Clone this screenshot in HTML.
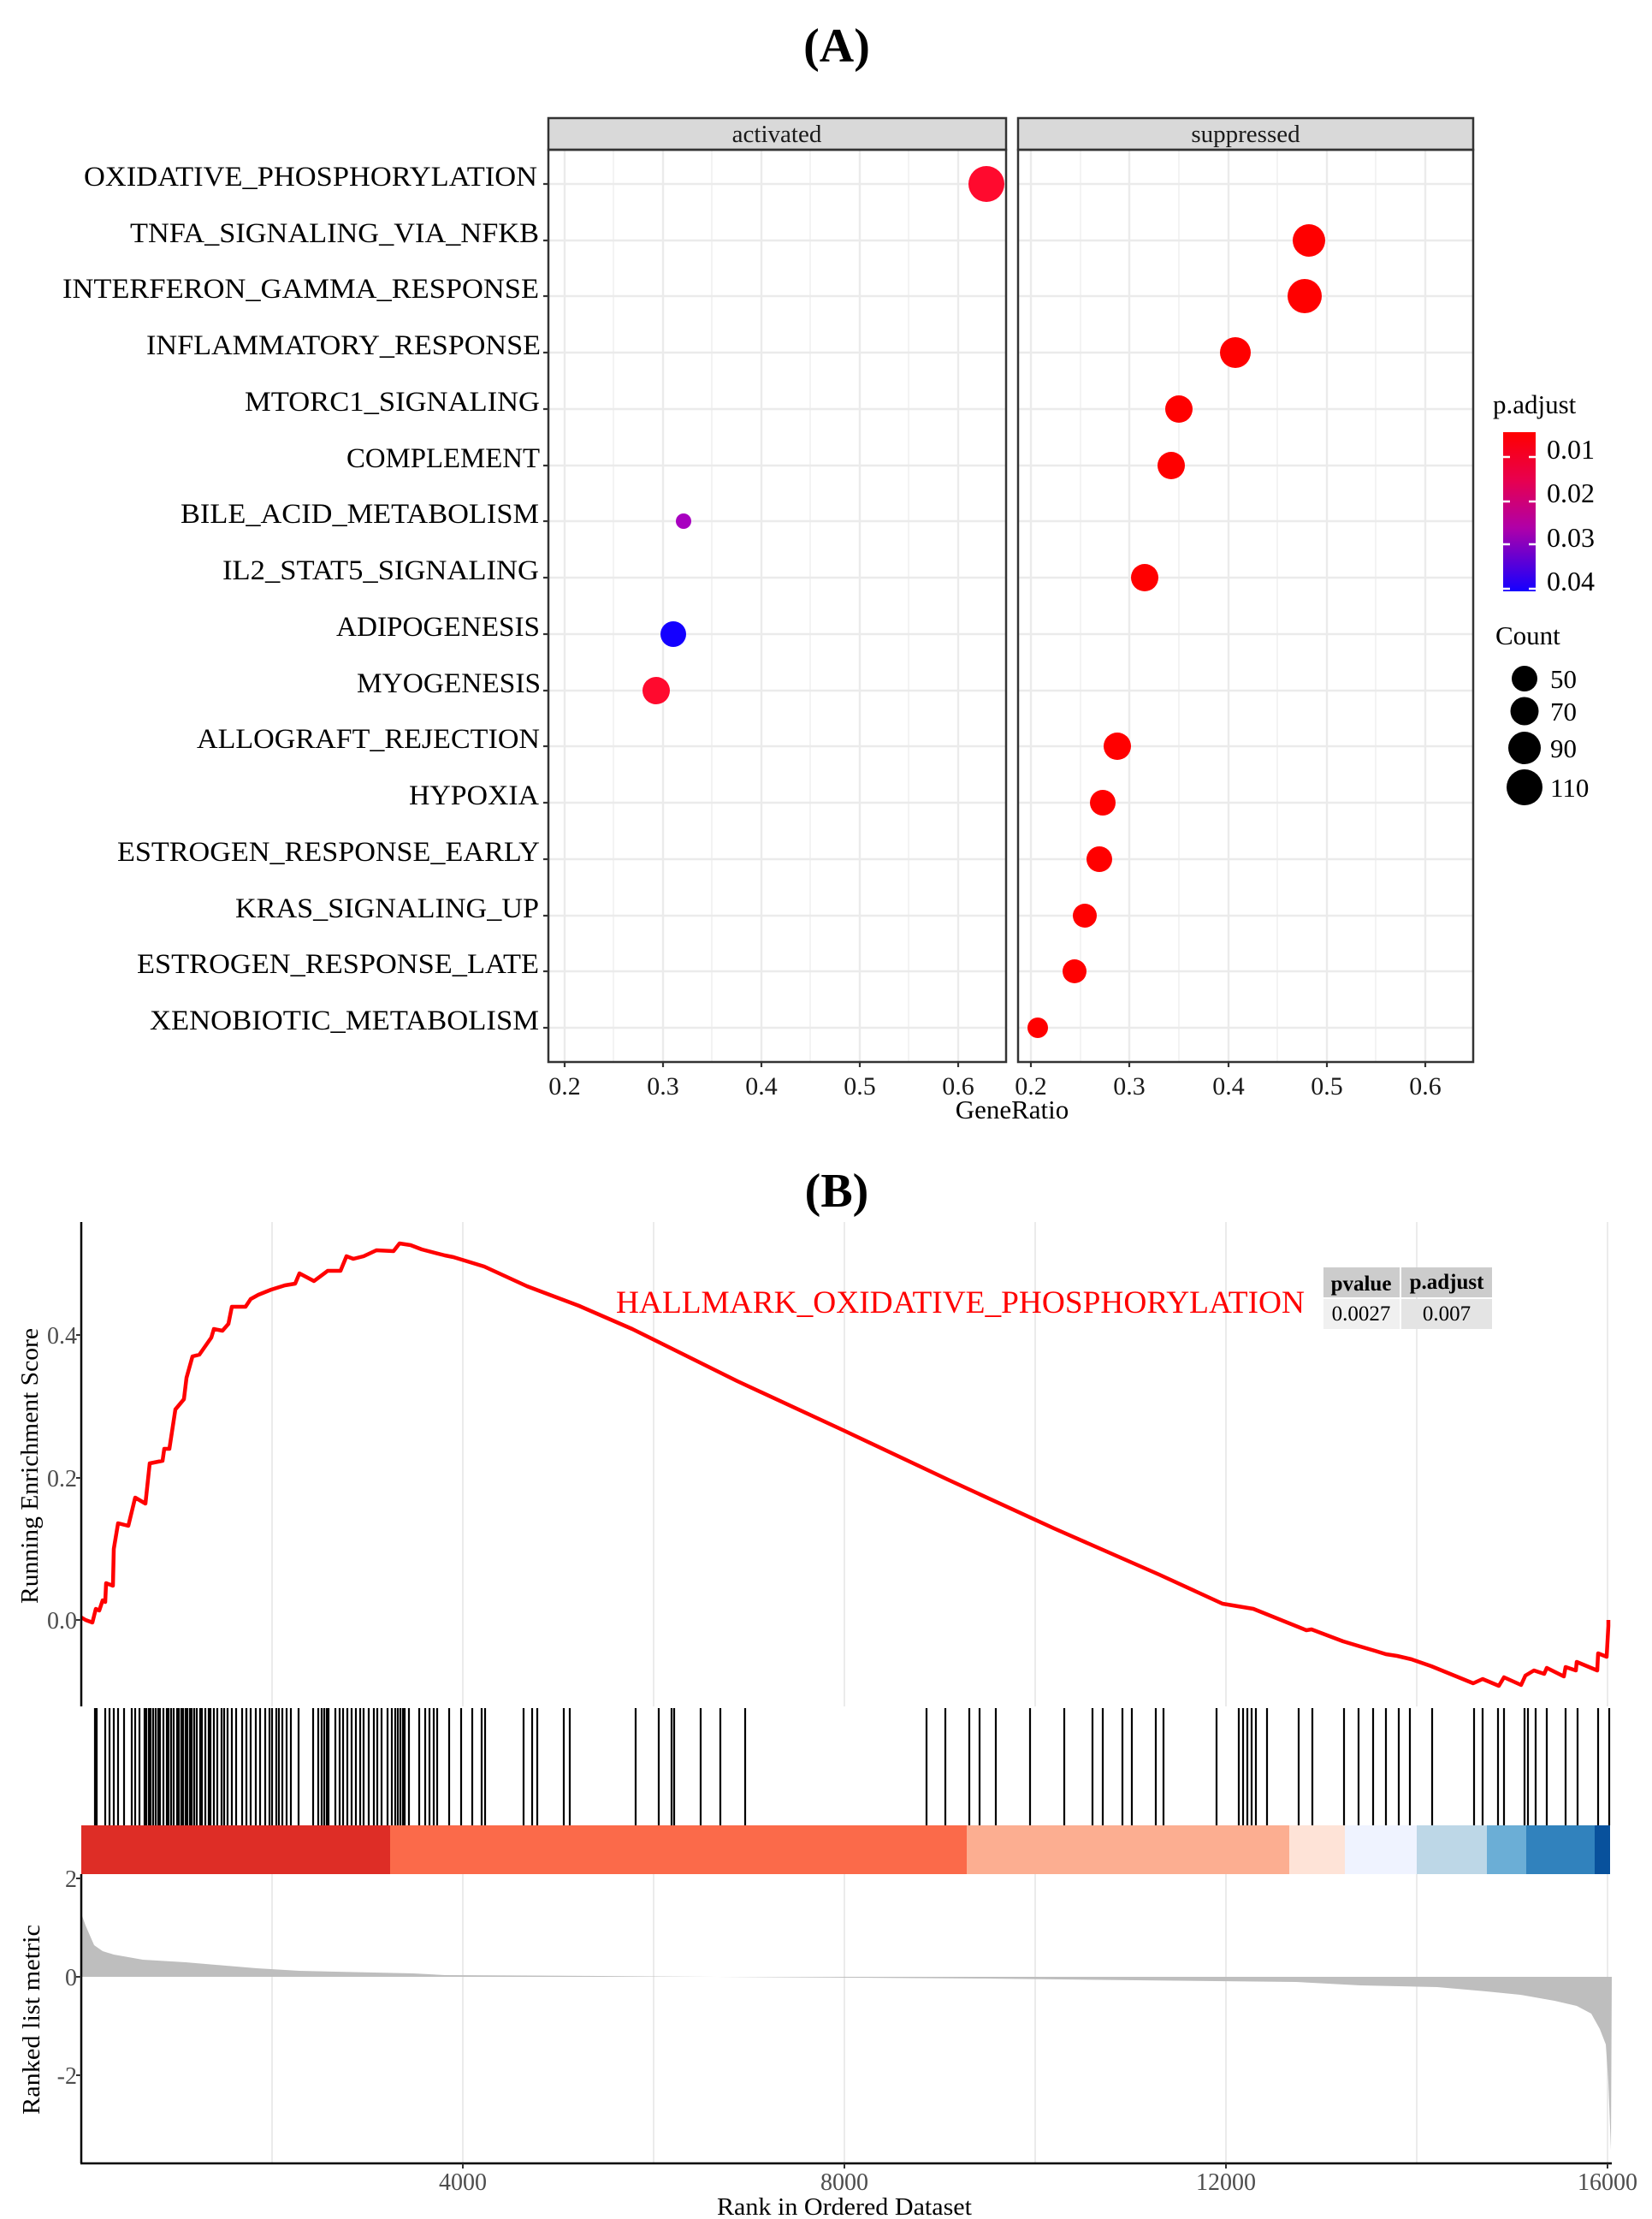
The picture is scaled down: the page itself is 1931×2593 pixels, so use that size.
<!DOCTYPE html>
<html><head><meta charset="utf-8"><style>
html,body{margin:0;padding:0;background:#fff}
svg{display:block}
text{font-family:"Liberation Serif",serif}
</style></head><body>
<svg width="1931" height="2593" viewBox="0 0 1931 2593" xmlns="http://www.w3.org/2000/svg">
<defs>
<linearGradient id="pg" x1="0" y1="0" x2="0" y2="1">
<stop offset="0" stop-color="#FF0000"/><stop offset="0.3" stop-color="#E8004E"/><stop offset="0.6" stop-color="#B000A8"/><stop offset="1" stop-color="#1400FF"/>
</linearGradient>
</defs>
<rect width="1931" height="2593" fill="#fff"/>
<text x="978" y="72" font-size="56" font-weight="bold" text-anchor="middle">(A)</text>
<text x="978" y="1410" font-size="56" font-weight="bold" text-anchor="middle">(B)</text>

<!-- Panel A grids -->
<g stroke="#EBEBEB">
<g stroke-width="1.2">
<line x1="717" y1="175" x2="717" y2="1241"/><line x1="832" y1="175" x2="832" y2="1241"/><line x1="947" y1="175" x2="947" y2="1241"/><line x1="1062" y1="175" x2="1062" y2="1241"/>
<line x1="1263" y1="175" x2="1263" y2="1241"/><line x1="1378" y1="175" x2="1378" y2="1241"/><line x1="1493" y1="175" x2="1493" y2="1241"/><line x1="1608" y1="175" x2="1608" y2="1241"/>
</g>
<g stroke-width="2.4">
<line x1="660" y1="175" x2="660" y2="1241"/><line x1="775" y1="175" x2="775" y2="1241"/><line x1="890" y1="175" x2="890" y2="1241"/><line x1="1005" y1="175" x2="1005" y2="1241"/><line x1="1120" y1="175" x2="1120" y2="1241"/>
<line x1="1205" y1="175" x2="1205" y2="1241"/><line x1="1320" y1="175" x2="1320" y2="1241"/><line x1="1436" y1="175" x2="1436" y2="1241"/><line x1="1551" y1="175" x2="1551" y2="1241"/><line x1="1666" y1="175" x2="1666" y2="1241"/>
</g>
<g id="hr" stroke-width="2.4">
<line x1="641" y1="215" x2="1722" y2="215"/><line x1="641" y1="281" x2="1722" y2="281"/><line x1="641" y1="346" x2="1722" y2="346"/><line x1="641" y1="412" x2="1722" y2="412"/>
<line x1="641" y1="478" x2="1722" y2="478"/><line x1="641" y1="544" x2="1722" y2="544"/><line x1="641" y1="609" x2="1722" y2="609"/><line x1="641" y1="675" x2="1722" y2="675"/>
<line x1="641" y1="741" x2="1722" y2="741"/><line x1="641" y1="807" x2="1722" y2="807"/><line x1="641" y1="872" x2="1722" y2="872"/><line x1="641" y1="938" x2="1722" y2="938"/>
<line x1="641" y1="1004" x2="1722" y2="1004"/><line x1="641" y1="1070" x2="1722" y2="1070"/><line x1="641" y1="1135" x2="1722" y2="1135"/><line x1="641" y1="1201" x2="1722" y2="1201"/>
</g>
</g>
<rect x="1176" y="136" width="14" height="1110" fill="#fff"/>
<!-- strips -->
<rect x="641" y="138" width="535" height="37" fill="#D9D9D9" stroke="#333" stroke-width="2.5"/>
<rect x="1190" y="138" width="532" height="37" fill="#D9D9D9" stroke="#333" stroke-width="2.5"/>
<text x="908" y="166" font-size="29" text-anchor="middle" fill="#1A1A1A">activated</text>
<text x="1456" y="166" font-size="29" text-anchor="middle" fill="#1A1A1A">suppressed</text>
<rect x="641" y="175" width="535" height="1066" fill="none" stroke="#333" stroke-width="2.5"/>
<rect x="1190" y="175" width="532" height="1066" fill="none" stroke="#333" stroke-width="2.5"/>

<!-- dots -->
<circle cx="1153" cy="215" r="21" fill="#FF0A2E"/>
<circle cx="799" cy="609" r="9" fill="#A800C0"/>
<circle cx="787" cy="741" r="15" fill="#1400FF"/>
<circle cx="767" cy="807" r="16" fill="#FF0A2E"/>
<circle cx="1530" cy="281" r="19" fill="#FF0000"/>
<circle cx="1525" cy="346" r="20" fill="#FF0000"/>
<circle cx="1444" cy="412" r="18" fill="#FF0000"/>
<circle cx="1378" cy="478" r="16" fill="#FF0000"/>
<circle cx="1369" cy="544" r="16" fill="#FF0000"/>
<circle cx="1338" cy="675" r="16" fill="#FF0000"/>
<circle cx="1306" cy="872" r="16" fill="#FF0000"/>
<circle cx="1289" cy="938" r="15" fill="#FF0000"/>
<circle cx="1285" cy="1004" r="15" fill="#FF0000"/>
<circle cx="1268" cy="1070" r="14" fill="#FF0000"/>
<circle cx="1256" cy="1135" r="14" fill="#FF0000"/>
<circle cx="1213" cy="1201" r="12" fill="#FF0000"/>

<!-- y labels -->
<g font-size="33" fill="#000" lengthAdjust="spacingAndGlyphs">
<text x="98" y="217" textLength="530" lengthAdjust="spacingAndGlyphs">OXIDATIVE_PHOSPHORYLATION</text>
<text x="152" y="283" textLength="478" lengthAdjust="spacingAndGlyphs">TNFA_SIGNALING_VIA_NFKB</text>
<text x="73" y="348" textLength="557" lengthAdjust="spacingAndGlyphs">INTERFERON_GAMMA_RESPONSE</text>
<text x="171" y="414" textLength="461" lengthAdjust="spacingAndGlyphs">INFLAMMATORY_RESPONSE</text>
<text x="286" y="480" textLength="345" lengthAdjust="spacingAndGlyphs">MTORC1_SIGNALING</text>
<text x="405" y="546" textLength="226" lengthAdjust="spacingAndGlyphs">COMPLEMENT</text>
<text x="211" y="611" textLength="419" lengthAdjust="spacingAndGlyphs">BILE_ACID_METABOLISM</text>
<text x="260" y="677" textLength="370" lengthAdjust="spacingAndGlyphs">IL2_STAT5_SIGNALING</text>
<text x="393" y="743" textLength="238" lengthAdjust="spacingAndGlyphs">ADIPOGENESIS</text>
<text x="417" y="809" textLength="215" lengthAdjust="spacingAndGlyphs">MYOGENESIS</text>
<text x="230" y="874" textLength="401" lengthAdjust="spacingAndGlyphs">ALLOGRAFT_REJECTION</text>
<text x="478" y="940" textLength="152" lengthAdjust="spacingAndGlyphs">HYPOXIA</text>
<text x="137" y="1006" textLength="494" lengthAdjust="spacingAndGlyphs">ESTROGEN_RESPONSE_EARLY</text>
<text x="275" y="1072" textLength="355" lengthAdjust="spacingAndGlyphs">KRAS_SIGNALING_UP</text>
<text x="160" y="1137" textLength="470" lengthAdjust="spacingAndGlyphs">ESTROGEN_RESPONSE_LATE</text>
<text x="175" y="1203" textLength="455" lengthAdjust="spacingAndGlyphs">XENOBIOTIC_METABOLISM</text>
</g>
<g stroke="#333" stroke-width="2.2">
<line x1="635" y1="215" x2="641" y2="215"/><line x1="635" y1="281" x2="641" y2="281"/><line x1="635" y1="346" x2="641" y2="346"/><line x1="635" y1="412" x2="641" y2="412"/>
<line x1="635" y1="478" x2="641" y2="478"/><line x1="635" y1="544" x2="641" y2="544"/><line x1="635" y1="609" x2="641" y2="609"/><line x1="635" y1="675" x2="641" y2="675"/>
<line x1="635" y1="741" x2="641" y2="741"/><line x1="635" y1="807" x2="641" y2="807"/><line x1="635" y1="872" x2="641" y2="872"/><line x1="635" y1="938" x2="641" y2="938"/>
<line x1="635" y1="1004" x2="641" y2="1004"/><line x1="635" y1="1070" x2="641" y2="1070"/><line x1="635" y1="1135" x2="641" y2="1135"/><line x1="635" y1="1201" x2="641" y2="1201"/>
<line x1="660" y1="1241" x2="660" y2="1247"/><line x1="775" y1="1241" x2="775" y2="1247"/><line x1="890" y1="1241" x2="890" y2="1247"/><line x1="1005" y1="1241" x2="1005" y2="1247"/><line x1="1120" y1="1241" x2="1120" y2="1247"/>
<line x1="1205" y1="1241" x2="1205" y2="1247"/><line x1="1320" y1="1241" x2="1320" y2="1247"/><line x1="1436" y1="1241" x2="1436" y2="1247"/><line x1="1551" y1="1241" x2="1551" y2="1247"/><line x1="1666" y1="1241" x2="1666" y2="1247"/>
</g>
<g font-size="30" fill="#1A1A1A" text-anchor="middle">
<text x="660" y="1279">0.2</text><text x="775" y="1279">0.3</text><text x="890" y="1279">0.4</text><text x="1005" y="1279">0.5</text><text x="1120" y="1279">0.6</text>
<text x="1205" y="1279">0.2</text><text x="1320" y="1279">0.3</text><text x="1436" y="1279">0.4</text><text x="1551" y="1279">0.5</text><text x="1666" y="1279">0.6</text>
</g>
<text x="1183" y="1307" font-size="31" text-anchor="middle">GeneRatio</text>

<!-- legend -->
<text x="1745" y="483" font-size="31">p.adjust</text>
<rect x="1757" y="505" width="38" height="186" fill="url(#pg)"/>
<g stroke="#fff" stroke-width="2.5">
<line x1="1757" y1="534" x2="1765" y2="534"/><line x1="1787" y1="534" x2="1795" y2="534"/>
<line x1="1757" y1="586" x2="1765" y2="586"/><line x1="1787" y1="586" x2="1795" y2="586"/>
<line x1="1757" y1="636" x2="1765" y2="636"/><line x1="1787" y1="636" x2="1795" y2="636"/>
<line x1="1757" y1="688" x2="1765" y2="688"/><line x1="1787" y1="688" x2="1795" y2="688"/>
</g>
<g font-size="32">
<text x="1808" y="536">0.01</text><text x="1808" y="587">0.02</text><text x="1808" y="639">0.03</text><text x="1808" y="690">0.04</text>
</g>
<text x="1748" y="753" font-size="31">Count</text>
<circle cx="1782" cy="793" r="15"/><circle cx="1782" cy="831" r="16.5"/><circle cx="1782" cy="874" r="19"/><circle cx="1782" cy="920" r="21"/>
<g font-size="31"><text x="1812" y="804">50</text><text x="1812" y="842">70</text><text x="1812" y="885">90</text><text x="1812" y="931">110</text></g>

<!-- Panel B -->
<g stroke="#EBEBEB" stroke-width="2">
<line x1="318" y1="1428" x2="318" y2="1994"/><line x1="541" y1="1428" x2="541" y2="1994"/><line x1="764" y1="1428" x2="764" y2="1994"/><line x1="987" y1="1428" x2="987" y2="1994"/><line x1="1210" y1="1428" x2="1210" y2="1994"/><line x1="1433" y1="1428" x2="1433" y2="1994"/><line x1="1656" y1="1428" x2="1656" y2="1994"/><line x1="1879" y1="1428" x2="1879" y2="1994"/>
<line x1="318" y1="2190" x2="318" y2="2528"/><line x1="541" y1="2190" x2="541" y2="2528"/><line x1="764" y1="2190" x2="764" y2="2528"/><line x1="987" y1="2190" x2="987" y2="2528"/><line x1="1210" y1="2190" x2="1210" y2="2528"/><line x1="1433" y1="2190" x2="1433" y2="2528"/><line x1="1656" y1="2190" x2="1656" y2="2528"/><line x1="1879" y1="2190" x2="1879" y2="2528"/>
</g>
<!-- metric -->
<polygon fill="#BEBEBE" points="95,2310 95,2236 100,2250 110,2273 120,2280 133,2284 167,2290 217,2293 300,2300 350,2303 483,2306 520,2308 700,2309 838,2310 1150,2312 1515,2316 1590,2320 1680,2322 1737,2327 1777,2331 1817,2338 1843,2344 1860,2353 1870,2371 1877,2389 1880,2433 1883,2513 1884,2310"/>
<!-- color bar -->
<rect x="95" y="2133" width="361" height="57" fill="#DE2D26"/>
<rect x="456" y="2133" width="674" height="57" fill="#FB6A4A"/>
<rect x="1130" y="2133" width="377" height="57" fill="#FCAE91"/>
<rect x="1507" y="2133" width="65" height="57" fill="#FEE3D7"/>
<rect x="1572" y="2133" width="84" height="57" fill="#EFF3FF"/>
<rect x="1656" y="2133" width="82" height="57" fill="#BDD7E7"/>
<rect x="1738" y="2133" width="46" height="57" fill="#6BAED6"/>
<rect x="1784" y="2133" width="80" height="57" fill="#3182BD"/>
<rect x="1864" y="2133" width="18" height="57" fill="#08519C"/>
<!-- hit ticks -->
<g stroke="#000" stroke-width="2.2">
<path id="tk" d="M111 1996V2133M113 1996V2133M123 1996V2133M128 1996V2133M133 1996V2133M138 1996V2133M145 1996V2133M154 1996V2133M158 1996V2133M163 1996V2133M169 1996V2133M171 1996V2133M174 1996V2133M176 1996V2133M179 1996V2133M182 1996V2133M185 1996V2133M187 1996V2133M191 1996V2133M195 1996V2133M197 1996V2133M200 1996V2133M203 1996V2133M207 1996V2133M209 1996V2133M212 1996V2133M214 1996V2133M217 1996V2133M219 1996V2133M222 1996V2133M224 1996V2133M227 1996V2133M230 1996V2133M234 1996V2133M236 1996V2133M240 1996V2133M244 1996V2133M246 1996V2133M250 1996V2133M254 1996V2133M259 1996V2133M262 1996V2133M266 1996V2133M271 1996V2133M276 1996V2133M283 1996V2133M288 1996V2133M293 1996V2133M299 1996V2133M304 1996V2133M310 1996V2133M315 1996V2133M318 1996V2133M323 1996V2133M326 1996V2133M330 1996V2133M335 1996V2133M340 1996V2133M349 1996V2133M366 1996V2133M372 1996V2133M376 1996V2133M379 1996V2133M382 1996V2133M384 1996V2133M392 1996V2133M397 1996V2133M401 1996V2133M406 1996V2133M411 1996V2133M416 1996V2133M421 1996V2133M425 1996V2133M431 1996V2133M437 1996V2133M441 1996V2133M446 1996V2133M453 1996V2133M458 1996V2133M462 1996V2133M465 1996V2133M468 1996V2133M471 1996V2133M473 1996V2133M478 1996V2133M490 1996V2133M497 1996V2133M502 1996V2133M507 1996V2133M511 1996V2133M525 1996V2133M539 1996V2133M552 1996V2133M563 1996V2133M567 1996V2133M612 1996V2133M622 1996V2133M628 1996V2133M659 1996V2133M666 1996V2133M743 1996V2133M770 1996V2133M785 1996V2133M788 1996V2133M819 1996V2133M842 1996V2133M871 1996V2133M1083 1996V2133M1105 1996V2133M1133 1996V2133M1145 1996V2133M1164 1996V2133M1204 1996V2133M1244 1996V2133M1277 1996V2133M1289 1996V2133M1312 1996V2133M1323 1996V2133M1351 1996V2133M1360 1996V2133M1422 1996V2133M1448 1996V2133M1453 1996V2133M1458 1996V2133M1463 1996V2133M1468 1996V2133M1481 1996V2133M1518 1996V2133M1534 1996V2133M1571 1996V2133M1588 1996V2133M1605 1996V2133M1620 1996V2133M1635 1996V2133M1648 1996V2133M1674 1996V2133M1723 1996V2133M1733 1996V2133M1751 1996V2133M1758 1996V2133M1782 1996V2133M1786 1996V2133M1795 1996V2133M1808 1996V2133M1830 1996V2133M1844 1996V2133M1868 1996V2133M1881 1996V2133"/>
</g>
<!-- ES curve -->
<polyline fill="none" stroke="#FF0000" stroke-width="4.5" stroke-linejoin="round" points="95,1890 100,1893 108,1896 112,1880 116,1882 120,1870 123,1872 124,1850 132,1853 133,1810 138,1780 150,1783 158,1750 170,1757 175,1710 190,1707 192,1693 198,1693 205,1647 215,1635 218,1610 225,1585 233,1583 247,1563 250,1553 260,1555 267,1547 271,1527 287,1527 293,1518 302,1513 317,1507 333,1502 345,1500 350,1488 367,1497 383,1485 398,1485 405,1468 413,1471 425,1468 440,1461 460,1462 467,1453 480,1455 493,1460 520,1467 530,1469 566,1480 616,1503 677,1526 739,1553 862,1614 985,1671 1108,1729 1232,1786 1355,1840 1429,1874 1465,1880 1527,1905 1533,1904 1570,1918 1590,1924 1607,1929 1620,1933 1633,1935 1650,1939 1673,1947 1722,1967 1733,1962 1752,1970 1758,1960 1778,1969 1783,1958 1793,1952 1805,1956 1808,1949 1828,1959 1830,1948 1842,1952 1843,1942 1867,1952 1868,1932 1878,1936 1880,1900 1880,1893"/>
<text x="720" y="1534" font-size="37" fill="#FF0000" textLength="805" lengthAdjust="spacingAndGlyphs">HALLMARK_OXIDATIVE_PHOSPHORYLATION</text>
<!-- table -->
<rect x="1547" y="1481" width="89" height="35" fill="#CCCCCC"/>
<rect x="1638" y="1481" width="106" height="35" fill="#CCCCCC"/>
<rect x="1547" y="1518" width="89" height="35" fill="#F0F0F0"/>
<rect x="1638" y="1518" width="106" height="35" fill="#E4E4E4"/>
<text x="1591" y="1508" font-size="25" font-weight="bold" text-anchor="middle">pvalue</text>
<text x="1691" y="1506" font-size="25" font-weight="bold" text-anchor="middle">p.adjust</text>
<text x="1591" y="1543" font-size="25" text-anchor="middle">0.0027</text>
<text x="1691" y="1543" font-size="25" text-anchor="middle">0.007</text>
<!-- axes -->
<g stroke="#000" stroke-width="2.5">
<line x1="95" y1="1428" x2="95" y2="1994"/>
<line x1="95" y1="2190" x2="95" y2="2528"/>
<line x1="94" y1="2528" x2="1884" y2="2528"/>
</g>
<g stroke="#333" stroke-width="2">
<line x1="89" y1="1893" x2="95" y2="1893"/><line x1="89" y1="1727" x2="95" y2="1727"/><line x1="89" y1="1560" x2="95" y2="1560"/>
<line x1="89" y1="2195" x2="95" y2="2195"/><line x1="89" y1="2310" x2="95" y2="2310"/><line x1="89" y1="2425" x2="95" y2="2425"/>
<line x1="541" y1="2528" x2="541" y2="2534"/><line x1="987" y1="2528" x2="987" y2="2534"/><line x1="1433" y1="2528" x2="1433" y2="2534"/><line x1="1879" y1="2528" x2="1879" y2="2534"/>
</g>
<g font-size="28" fill="#4D4D4D" text-anchor="end">
<text x="90" y="1570">0.4</text><text x="90" y="1737">0.2</text><text x="90" y="1903">0.0</text>
<text x="90" y="2205">2</text><text x="90" y="2320">0</text><text x="90" y="2435">-2</text>
</g>
<g font-size="28" fill="#4D4D4D" text-anchor="middle">
<text x="541" y="2559">4000</text><text x="987" y="2559">8000</text><text x="1433" y="2559">12000</text><text x="1879" y="2559">16000</text>
</g>
<text x="987" y="2588" font-size="29" text-anchor="middle" textLength="298" lengthAdjust="spacingAndGlyphs">Rank in Ordered Dataset</text>
<text transform="translate(44,1713) rotate(-90)" font-size="29" text-anchor="middle" textLength="322" lengthAdjust="spacingAndGlyphs">Running Enrichment Score</text>
<text transform="translate(46,2360) rotate(-90)" font-size="29" text-anchor="middle" textLength="222" lengthAdjust="spacingAndGlyphs">Ranked list metric</text>
</svg>
</body></html>
